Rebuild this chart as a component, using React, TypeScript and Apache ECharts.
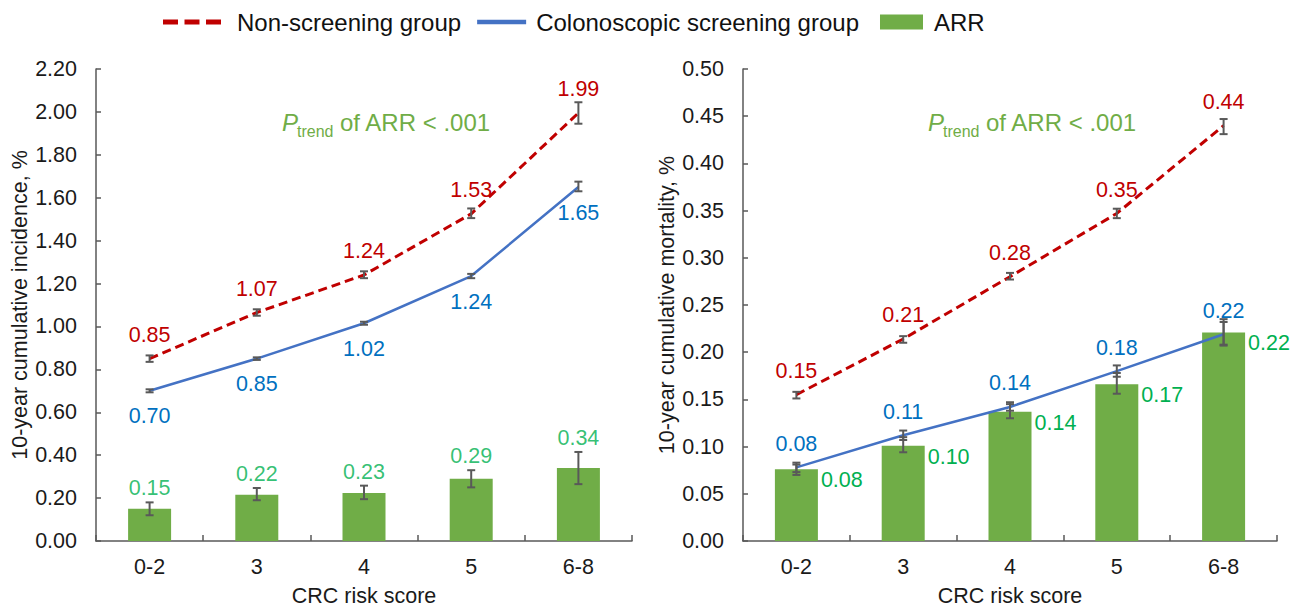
import React, { useEffect, useRef } from "react";
import * as echarts from "echarts";

const categories = ["0-2", "3", "4", "5", "6-8"];

// Left panel: 10-year cumulative incidence, %
const incNonScreen = [0.85, 1.065, 1.24, 1.525, 1.995];
const incNonScreenErr = [[0.835, 0.865], [1.05, 1.08], [1.225, 1.257], [1.505, 1.55], [1.945, 2.045]];
const incNonScreenLabels = ["0.85", "1.07", "1.24", "1.53", "1.99"];
const incScreen = [0.70, 0.85, 1.015, 1.235, 1.65];
const incScreenErr = [[0.693, 0.707], [0.844, 0.856], [1.008, 1.022], [1.225, 1.245], [1.63, 1.675]];
const incScreenLabels = ["0.70", "0.85", "1.02", "1.24", "1.65"];
const incArr = [0.15, 0.216, 0.224, 0.29, 0.34];
const incArrErr = [[0.12, 0.18], [0.19, 0.247], [0.195, 0.258], [0.25, 0.33], [0.265, 0.415]];
const incArrLabels = ["0.15", "0.22", "0.23", "0.29", "0.34"];
const incTicks = { min: 0, max: 2.2, interval: 0.2 };

// Right panel: 10-year cumulative mortality, %
const morNonScreen = [0.155, 0.214, 0.28, 0.347, 0.44];
const morNonScreenErr = [[0.151, 0.158], [0.21, 0.217], [0.277, 0.284], [0.342, 0.352], [0.431, 0.447]];
const morNonScreenLabels = ["0.15", "0.21", "0.28", "0.35", "0.44"];
const morScreen = [0.078, 0.112, 0.142, 0.18, 0.219];
const morScreenErr = [[0.073, 0.083], [0.107, 0.117], [0.138, 0.147], [0.174, 0.186], [0.208, 0.235]];
const morScreenLabels = ["0.08", "0.11", "0.14", "0.18", "0.22"];
const morArr = [0.076, 0.101, 0.137, 0.166, 0.221];
const morArrErr = [[0.07, 0.081], [0.094, 0.11], [0.13, 0.145], [0.156, 0.178], [0.207, 0.232]];
const morArrLabels = ["0.08", "0.10", "0.14", "0.17", "0.22"];
const morTicks = { min: 0, max: 0.5, interval: 0.05 };

const NAME_NON = "Non-screening group";
const NAME_SCR = "Colonoscopic screening group";
const NAME_ARR = "ARR";

const FONT = "Liberation Sans, Arial, Helvetica, sans-serif";
const FS = 21.5;
const RED = "#C00000";
const BLUE_LINE = "#4472C4";
const BLUE_TEXT = "#0070C0";
const GREEN_BAR = "#70AD47";
const GREEN_TEXT = "#00B050";
const AXIS = "#595959";
const ERR = "#595959";
const TXT = "#1a1a1a";

function errorBarItem(params: any, api: any) {
  const xi = api.value(0);
  const lo = api.coord([xi, api.value(1)]);
  const hi = api.coord([xi, api.value(2)]);
  const w = 4;
  const style = { stroke: ERR, lineWidth: 2 };
  return {
    type: "group",
    children: [
      { type: "line", shape: { x1: lo[0], y1: lo[1], x2: hi[0], y2: hi[1] }, style },
      { type: "line", shape: { x1: lo[0] - w, y1: lo[1], x2: lo[0] + w, y2: lo[1] }, style },
      { type: "line", shape: { x1: hi[0] - w, y1: hi[1], x2: hi[0] + w, y2: hi[1] }, style },
    ],
  };
}

function errSeries(idx: number, err: number[][]) {
  return {
    type: "custom",
    xAxisIndex: idx,
    yAxisIndex: idx,
    renderItem: errorBarItem,
    encode: { x: 0, y: [1, 2] },
    data: err.map((e, i) => [i, e[0], e[1]]),
    z: 10,
    silent: true,
  };
}

function panelSeries(
  idx: number,
  non: number[], nonErr: number[][], nonLabels: string[],
  scr: number[], scrErr: number[][], scrLabels: string[],
  arr: number[], arrErr: number[][], arrLabels: string[],
  right: boolean
) {
  const labelFont = { fontFamily: FONT, fontSize: FS };
  const series: any[] = [
    {
      name: NAME_ARR,
      type: "bar",
      xAxisIndex: idx,
      yAxisIndex: idx,
      data: arr,
      barWidth: 43,
      itemStyle: { color: GREEN_BAR },
      z: 2,
      label: right
        ? {
            show: true,
            position: ["100%", 0],
            offset: [3, 0],
            color: GREEN_TEXT,
            ...labelFont,
            formatter: (p: any) => arrLabels[p.dataIndex],
          }
        : { show: false },
    },
    {
      name: NAME_NON,
      type: "line",
      xAxisIndex: idx,
      yAxisIndex: idx,
      data: non,
      symbol: "circle",
      symbolSize: 1,
      itemStyle: { color: RED },
      lineStyle: { color: RED, width: 3, type: [9, 5] },
      z: 5,
      label: {
        show: true,
        position: "top",
        distance: 12,
        color: RED,
        ...labelFont,
        formatter: (p: any) => nonLabels[p.dataIndex],
      },
    },
    {
      name: NAME_SCR,
      type: "line",
      xAxisIndex: idx,
      yAxisIndex: idx,
      data: scr,
      symbol: "circle",
      symbolSize: 1,
      itemStyle: { color: BLUE_LINE },
      lineStyle: { color: BLUE_LINE, width: 2.5 },
      z: 5,
      label: {
        show: true,
        position: right ? "top" : "bottom",
        distance: right ? 12 : 14,
        color: BLUE_TEXT,
        ...labelFont,
        formatter: (p: any) => scrLabels[p.dataIndex],
      },
    },
    errSeries(idx, nonErr),
    errSeries(idx, scrErr),
    errSeries(idx, arrErr),
  ];
  if (!right) {
    series.push({
      type: "scatter",
      xAxisIndex: idx,
      yAxisIndex: idx,
      data: arrErr.map((e) => e[1]),
      symbolSize: 0,
      silent: true,
      z: 11,
      label: {
        show: true,
        position: "top",
        distance: 3,
        color: GREEN_TEXT,
        ...labelFont,
        formatter: (p: any) => arrLabels[p.dataIndex],
      },
    });
  }
  return series;
}

function xAxisCfg(idx: number) {
  return {
    type: "category",
    gridIndex: idx,
    data: categories,
    boundaryGap: true,
    axisLine: { show: true, lineStyle: { color: AXIS, width: 1.5 } },
    axisTick: { show: true, inside: true, length: 6, lineStyle: { color: AXIS, width: 1.5 } },
    axisLabel: { color: TXT, fontFamily: FONT, fontSize: FS, margin: 15 },
    name: "CRC risk score",
    nameLocation: "middle",
    nameGap: 44,
    nameTextStyle: { color: TXT, fontFamily: FONT, fontSize: FS },
  };
}

function yAxisCfg(idx: number, t: { min: number; max: number; interval: number }, name: string) {
  return {
    type: "value",
    gridIndex: idx,
    min: t.min,
    max: t.max,
    interval: t.interval,
    splitLine: { show: false },
    axisLine: { show: true, lineStyle: { color: AXIS, width: 1.5 } },
    axisTick: { show: true, inside: true, length: 5, lineStyle: { color: AXIS, width: 1.5 } },
    axisLabel: {
      color: TXT,
      fontFamily: FONT,
      fontSize: FS,
      margin: 19,
      formatter: (v: number) => v.toFixed(2),
    },
    name,
    nameLocation: "middle",
    nameGap: 63,
    nameTextStyle: { color: TXT, fontFamily: FONT, fontSize: FS },
  };
}

function ptrendText(x: number, y: number) {
  const base = { fill: GREEN_BAR, fontFamily: FONT, verticalAlign: "middle", align: "left" };
  return {
    type: "group",
    x,
    y,
    children: [
      { type: "text", x: 0, y: 0, style: { ...base, text: "P", fontSize: 24, fontStyle: "italic" } },
      { type: "text", x: 15, y: 9, style: { ...base, text: "trend", fontSize: 16 } },
      { type: "text", x: 58, y: 0, style: { ...base, text: "of ARR < .001", fontSize: 24 } },
    ],
  };
}

// legend icons: 69x18 boxes (corner points fix the box), marks placed inside
const RED_ICON = "path://M0,0l0,0 M69,18l0,0 M0,6.5h15v5h-15z M21.5,6.5h15v5h-15z M43,6.5h15v5h-15z";
const BLUE_ICON = "path://M0,0l0,0 M69,18l0,0 M15,6.75h49v4.5h-49z";
const GREEN_ICON = "path://M0,0l0,0 M69,18l0,0 M20,1.5h43v15h-43z";

export default function App() {
  const ref = useRef<HTMLDivElement>(null);
  useEffect(() => {
    if (!ref.current) return;
    const chart = echarts.init(ref.current, null, { renderer: "svg" });
    chart.setOption({
      animation: false,
      backgroundColor: "#ffffff",
      textStyle: { fontFamily: FONT },
      legend: {
        left: 158,
        top: 5,
        itemWidth: 69,
        itemHeight: 18,
        itemGap: 1,
        textStyle: { fontFamily: FONT, fontSize: 24, color: "#111" },
        data: [
          { name: NAME_NON, icon: RED_ICON, itemStyle: { color: RED } },
          { name: NAME_SCR, icon: BLUE_ICON, itemStyle: { color: BLUE_LINE } },
          { name: NAME_ARR, icon: GREEN_ICON, itemStyle: { color: GREEN_BAR } },
        ],
        selectedMode: false,
      },
      grid: [
        { left: 96, right: 1298 - 632, top: 69, bottom: 612 - 544 },
        { left: 743, right: 1298 - 1277, top: 69, bottom: 612 - 544 },
      ],
      xAxis: [xAxisCfg(0), xAxisCfg(1)],
      yAxis: [
        yAxisCfg(0, incTicks, "10-year cumulative incidence, %"),
        yAxisCfg(1, morTicks, "10-year cumulative mortality, %"),
      ],
      graphic: [ptrendText(282, 122), ptrendText(928, 122)],
      series: [
        ...panelSeries(0, incNonScreen, incNonScreenErr, incNonScreenLabels, incScreen, incScreenErr, incScreenLabels, incArr, incArrErr, incArrLabels, false),
        ...panelSeries(1, morNonScreen, morNonScreenErr, morNonScreenLabels, morScreen, morScreenErr, morScreenLabels, morArr, morArrErr, morArrLabels, true),
      ],
    });
    return () => chart.dispose();
  }, []);
  return (
    <div
      ref={ref}
      style={{ position: "absolute", left: 0, top: 0, width: 1298, height: 612 }}
    />
  );
}
